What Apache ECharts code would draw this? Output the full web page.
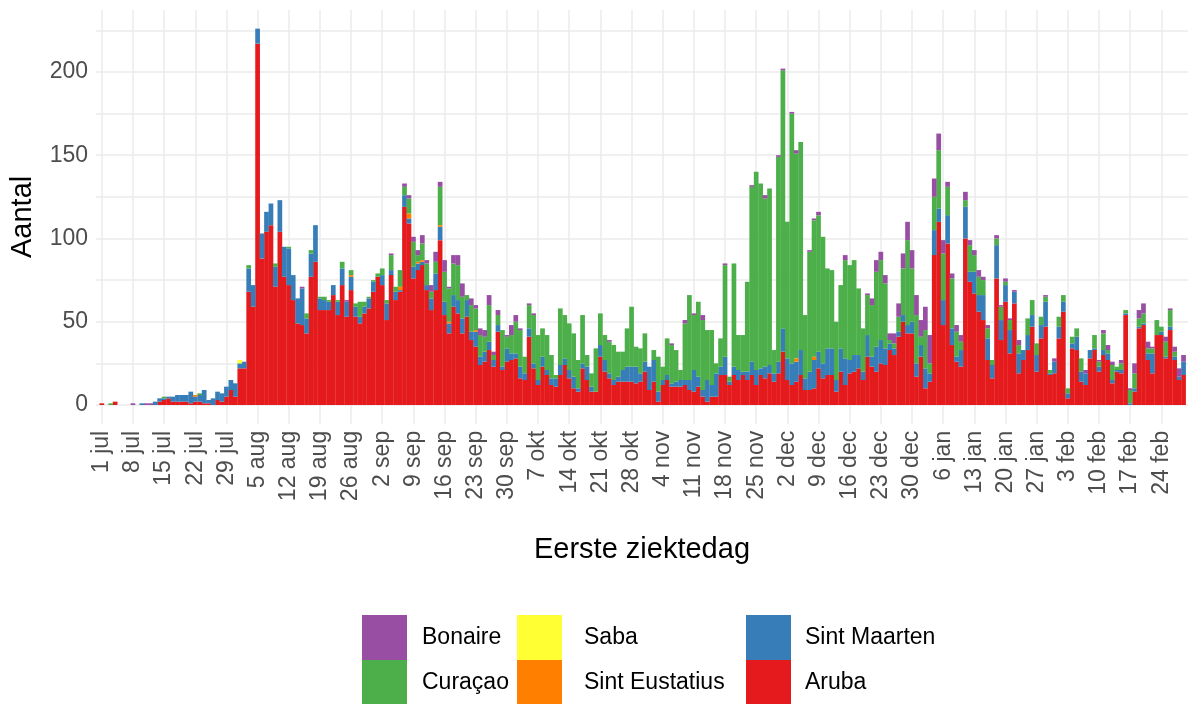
<!DOCTYPE html>
<html lang="nl">
<head>
    <meta charset="UTF-8">
    <title>Eerste ziektedag</title>
    <script src="https://cdn.jsdelivr.net/npm/echarts@6.0.0/dist/echarts.min.js"></script>
    <style>
        html, body { margin: 0; padding: 0; background: #fff; }
        #main { width: 1203px; height: 704px; }
    </style>
</head>
<body>
<div id="main"></div>
<script>
    // dag 0 = 1 jul, laatste dag = 1 mrt
    var tickLabels = ['1 jul', '8 jul', '15 jul', '22 jul', '29 jul', '5 aug', '12 aug', '19 aug', '26 aug',
        '2 sep', '9 sep', '16 sep', '23 sep', '30 sep', '7 okt', '14 okt', '21 okt', '28 okt',
        '4 nov', '11 nov', '18 nov', '25 nov', '2 dec', '9 dec', '16 dec', '23 dec', '30 dec',
        '6 jan', '13 jan', '20 jan', '27 jan', '3 feb', '10 feb', '17 feb', '24 feb'];
    var yLabels = [0, 50, 100, 150, 200];
    var yLines = [0, 25, 50, 75, 100, 125, 150, 175, 200, 225];

    var aruba = [
        1, 0, 0, 2, 0, 0, 0, 0, 0, 0,
        0, 0, 0, 2, 3, 4, 2, 2, 2, 2,
        1, 2, 2, 1, 1, 0, 3, 2, 5, 9,
        5, 22, 22, 68, 59, 217, 88, 104, 108, 71,
        104, 77, 72, 63, 49, 48, 43, 77, 86, 57,
        57, 57, 66, 54, 72, 53, 69, 53, 49, 55,
        58, 68, 77, 72, 51, 78, 63, 68, 119, 109,
        76, 81, 84, 69, 57, 69, 99, 54, 43, 59,
        55, 43, 53, 39, 35, 24, 26, 33, 23, 44,
        21, 26, 27, 28, 16, 15, 41, 22, 12, 23,
        18, 12, 11, 18, 24, 16, 10, 8, 22, 15,
        8, 8, 29, 20, 16, 12, 14, 14, 14, 14,
        13, 14, 20, 9, 14, 2, 12, 15, 11, 11,
        11, 12, 9, 8, 11, 5, 2, 5, 5, 18,
        18, 12, 18, 15, 18, 15, 18, 12, 18, 16,
        19, 14, 19, 32, 15, 12, 14, 18, 9, 9,
        10, 22, 16, 18, 18, 8, 20, 12, 19, 20,
        22, 15, 29, 23, 20, 25, 24, 33, 30, 41,
        50, 43, 43, 17, 29, 10, 14, 90, 110, 48,
        97, 36, 26, 23, 100, 74, 67, 56, 51, 27,
        16, 76, 39, 62, 31, 61, 19, 27, 33, 47,
        20, 40, 47, 18, 19, 40, 56, 4, 34, 33,
        14, 12, 28, 33, 20, 30, 27, 13, 20, 19,
        54, 0, 8, 46, 48, 27, 19, 42, 42, 28,
        45, 27, 15, 18];
    var sintMaarten = [
        0, 0, 0, 0, 0, 0, 0, 0, 0, 1,
        0, 0, 2, 2, 1, 1, 3, 4, 4, 4,
        7, 3, 4, 8, 2, 4, 5, 5, 6, 6,
        8, 3, 4, 14, 13, 9, 15, 12, 13, 12,
        19, 18, 22, 15, 15, 22, 9, 14, 22, 7,
        6, 5, 6, 8, 10, 9, 8, 6, 4, 4,
        6, 6, 0, 6, 10, 3, 5, 1, 7, 3,
        7, 4, 2, 3, 7, 10, 8, 8, 6, 7,
        8, 9, 10, 5, 9, 5, 6, 5, 4, 4,
        2, 8, 4, 3, 7, 4, 5, 3, 3, 6,
        3, 4, 5, 6, 4, 5, 7, 2, 3, 8,
        3, 0, 7, 7, 3, 3, 3, 7, 9, 9,
        10, 5, 6, 14, 13, 6, 3, 3, 2, 3,
        4, 3, 6, 13, 6, 4, 13, 7, 14, 5,
        11, 2, 5, 6, 2, 5, 8, 9, 4, 7,
        5, 5, 7, 14, 13, 13, 12, 15, 7, 11,
        17, 10, 9, 16, 16, 7, 14, 16, 8, 10,
        8, 5, 13, 6, 15, 14, 10, 4, 4, 3,
        4, 5, 7, 8, 7, 12, 5, 15, 8, 15,
        17, 10, 3, 10, 19, 6, 13, 10, 15, 13,
        8, 20, 12, 10, 14, 7, 12, 6, 9, 7,
        10, 8, 15, 1, 7, 7, 6, 3, 3, 8,
        6, 7, 5, 1, 3, 3, 4, 2, 1, 2,
        1, 1, 2, 1, 1, 4, 12, 0, 2, 1,
        2, 2, 2, 8];
    var sintEustatius = [
        0, 0, 0, 0, 0, 0, 0, 0, 0, 0,
        0, 0, 0, 0, 0, 0, 0, 0, 0, 0,
        0, 1, 0, 0, 0, 0, 0, 0, 0, 0,
        0, 0, 0, 0, 0, 0, 0, 0, 0, 0,
        0, 0, 0, 0, 0, 0, 0, 0, 0, 0,
        0, 0, 0, 0, 0, 0, 1, 0, 0, 0,
        0, 0, 0, 0, 0, 0, 0, 2, 0, 3,
        0, 1, 1, 0, 0, 0, 1, 0, 1, 0,
        0, 0, 0, 0, 1, 0, 0, 0, 0, 0,
        0, 0, 0, 0, 0, 0, 0, 0, 0, 0,
        0, 0, 0, 0, 0, 0, 0, 0, 0, 0,
        0, 0, 0, 0, 0, 0, 0, 0, 0, 0,
        0, 0, 0, 0, 0, 0, 0, 0, 0, 0,
        0, 0, 0, 0, 0, 0, 0, 0, 0, 0,
        0, 0, 0, 0, 0, 0, 0, 0, 0, 0,
        0, 0, 0, 0, 0, 0, 2, 0, 0, 0,
        2, 0, 0, 0, 0, 0, 0, 0, 0, 0,
        0, 0, 0, 0, 0, 0, 0, 0, 0, 0,
        0, 0, 0, 0, 0, 0, 0, 0, 0, 0,
        0, 0, 0, 0, 0, 0, 0, 0, 0, 0,
        0, 0, 0, 0, 0, 0, 0, 0, 0, 0,
        0, 0, 0, 0, 0, 0, 0, 0, 0, 0,
        0, 0, 0, 0, 0, 0, 0, 0, 0, 0,
        0, 0, 0, 0, 0, 0, 0, 0, 0, 0,
        0, 0, 0, 0];
    var saba = [
        0, 0, 0, 0, 0, 0, 0, 0, 0, 0,
        0, 0, 0, 0, 0, 0, 0, 0, 0, 0,
        0, 0, 0, 0, 0, 0, 0, 0, 0, 0,
        0, 2, 0, 0, 0, 0, 0, 0, 0, 0,
        0, 0, 0, 0, 0, 0, 0, 0, 0, 0,
        0, 0, 0, 0, 0, 0, 0, 0, 0, 0,
        0, 0, 0, 0, 0, 0, 0, 0, 0, 0,
        0, 0, 0, 0, 0, 0, 0, 0, 0, 0,
        0, 0, 0, 0, 0, 0, 0, 0, 0, 0,
        0, 0, 0, 0, 0, 0, 0, 0, 0, 0,
        0, 0, 0, 0, 0, 0, 0, 0, 0, 0,
        0, 0, 0, 0, 0, 0, 0, 0, 0, 0,
        0, 0, 0, 0, 0, 0, 0, 0, 0, 0,
        0, 0, 0, 0, 0, 0, 0, 0, 0, 0,
        0, 0, 0, 0, 0, 0, 0, 0, 0, 0,
        0, 0, 0, 0, 0, 0, 0, 0, 0, 0,
        0, 0, 0, 0, 0, 0, 0, 0, 0, 0,
        0, 0, 0, 0, 0, 0, 0, 0, 0, 0,
        0, 0, 0, 0, 0, 0, 0, 0, 0, 0,
        0, 0, 0, 0, 0, 0, 0, 0, 0, 0,
        0, 0, 0, 0, 0, 0, 0, 0, 0, 0,
        0, 0, 0, 0, 0, 0, 0, 0, 0, 0,
        0, 0, 0, 0, 0, 0, 0, 0, 0, 0,
        0, 0, 0, 0, 0, 0, 0, 0, 0, 0,
        0, 0, 0, 0];
    var curacao = [
        0, 0, 1, 0, 0, 0, 0, 0, 0, 0,
        0, 0, 0, 0, 1, 0, 0, 0, 0, 0,
        0, 0, 1, 0, 0, 0, 0, 0, 0, 0,
        0, 0, 0, 2, 0, 0, 0, 0, 0, 2,
        0, 0, 1, 0, 0, 0, 3, 2, 0, 1,
        2, 1, 0, 1, 4, 0, 3, 2, 9, 3,
        1, 1, 2, 4, 2, 9, 3, 10, 5, 9,
        15, 4, 10, 13, 4, 7, 23, 18, 20, 19,
        21, 13, 3, 16, 13, 13, 9, 22, 3, 6,
        22, 7, 11, 19, 22, 10, 14, 29, 27, 17,
        21, 14, 2, 34, 26, 28, 26, 17, 29, 7,
        8, 26, 19, 15, 19, 21, 15, 11, 23, 36,
        12, 15, 17, 0, 6, 21, 8, 22, 23, 19,
        6, 34, 51, 33, 45, 42, 30, 33, 6, 17,
        55, 3, 62, 21, 22, 54, 105, 119, 111, 101,
        106, 14, 123, 155, 82, 150, 123, 125, 38, 72,
        82, 82, 76, 48, 47, 35, 38, 59, 57, 57,
        40, 26, 24, 31, 45, 48, 39, 2, 3, 9,
        28, 51, 32, 29, 5, 23, 6, 20, 35, 28,
        17, 30, 15, 5, 4, 16, 10, 11, 9, 6,
        3, 4, 8, 2, 6, 0, 5, 0, 10, 9,
        7, 5, 3, 2, 0, 6, 4, 3, 4, 5,
        8, 0, 0, 8, 3, 10, 2, 9, 2, 4,
        2, 8, 9, 5, 6, 3, 3, 9, 3, 9,
        10, 3, 0, 0];
    var bonaire = [
        0, 0, 0, 0, 0, 0, 0, 1, 0, 0,
        1, 1, 0, 0, 0, 0, 0, 0, 0, 0,
        0, 0, 0, 0, 0, 0, 0, 0, 0, 0,
        0, 0, 0, 0, 0, 0, 0, 0, 0, 0,
        0, 0, 0, 0, 0, 1, 0, 0, 0, 0,
        0, 0, 0, 0, 0, 1, 0, 0, 0, 0,
        0, 0, 0, 0, 0, 1, 0, 0, 2, 2,
        3, 3, 5, 2, 4, 6, 3, 7, 1, 5,
        6, 8, 0, 4, 2, 4, 4, 6, 2, 3,
        0, 1, 6, 4, 1, 0, 1, 1, 0, 0,
        0, 0, 0, 0, 0, 0, 0, 0, 0, 0,
        0, 0, 0, 0, 1, 0, 0, 0, 0, 0,
        0, 0, 0, 0, 0, 0, 0, 0, 1, 0,
        0, 2, 0, 1, 0, 3, 0, 0, 0, 0,
        1, 0, 0, 0, 0, 0, 1, 0, 0, 2,
        0, 0, 1, 1, 0, 1, 2, 0, 0, 1,
        1, 2, 0, 0, 0, 0, 0, 3, 0, 0,
        0, 0, 1, 4, 7, 5, 5, 4, 6, 8,
        9, 11, 11, 12, 10, 14, 17, 11, 10, 8,
        3, 3, 4, 4, 5, 3, 3, 4, 2, 2,
        0, 2, 1, 2, 1, 1, 3, 0, 0, 0,
        0, 0, 1, 0, 2, 0, 0, 0, 0, 0,
        0, 2, 0, 0, 1, 2, 3, 2, 0, 2,
        0, 1, 6, 5, 6, 4, 1, 0, 0, 3,
        1, 3, 5, 4];

    // volgorde van onder naar boven in de stapel
    var regions = [
        {name: 'Aruba', color: '#E41A1C', values: aruba},
        {name: 'Sint Maarten', color: '#377EB8', values: sintMaarten},
        {name: 'Sint Eustatius', color: '#FF7F00', values: sintEustatius},
        {name: 'Saba', color: '#FFFF33', values: saba},
        {name: 'Curaçao', color: '#4DAF4A', values: curacao},
        {name: 'Bonaire', color: '#984EA3', values: bonaire}
    ];

    var tickDays = tickLabels.map(function (t, i) { return i * 7; });

    function legendColumn(left, names, textGap) {
        return {
            orient: 'vertical',
            left: left,
            top: 615,
            height: 95,
            padding: 0,
            itemWidth: 45,
            itemHeight: 45,
            itemGap: 0,
            icon: 'rect',
            selectedMode: false,
            data: names,
            textStyle: {fontSize: 23, color: '#000', padding: [0, 0, 0, textGap]}
        };
    }

    var option = {
        animation: false,
        textStyle: {fontFamily: '"Liberation Sans", Arial, sans-serif'},
        grid: {left: 95.2, right: 15, top: 10, bottom: 280.2},
        legend: [
            legendColumn(362, ['Bonaire', 'Curaçao'], 10),
            legendColumn(517, ['Saba', 'Sint Eustatius'], 17),
            legendColumn(746, ['Sint Maarten', 'Aruba'], 9)
        ],
        xAxis: {
            type: 'value',
            min: -1.3,
            max: 244,
            name: 'Eerste ziektedag',
            nameLocation: 'middle',
            nameGap: 112,
            nameTextStyle: {fontSize: 29, color: '#000'},
            axisLine: {show: false},
            axisTick: {show: false, customValues: tickDays},
            axisLabel: {
                customValues: tickDays,
                rotate: 90,
                margin: 7,
                fontSize: 23,
                color: '#4D4D4D',
                formatter: function (v) { return tickLabels[tickDays.indexOf(v)]; }
            },
            splitLine: {show: true, lineStyle: {color: '#EBEBEB', width: 1.5}}
        },
        yAxis: {
            type: 'value',
            min: -11.3,
            max: 237.2,
            name: 'Aantal',
            nameLocation: 'middle',
            nameGap: 59,
            nameTextStyle: {fontSize: 29, color: '#000'},
            axisLine: {show: false},
            axisTick: {show: false, customValues: yLines},
            axisLabel: {customValues: yLabels, margin: 8, fontSize: 23, color: '#4D4D4D'},
            splitLine: {show: true, lineStyle: {color: '#EBEBEB', width: 1.5}}
        },
        // waarde eerst zodat de stapel op de y-waarde werkt
        series: regions.map(function (r) {
            return {
                name: r.name,
                type: 'bar',
                stack: 'totaal',
                barWidth: '106%',
                barCategoryGap: '0%',
                encode: {x: 1, y: 0},
                itemStyle: {color: r.color},
                data: r.values.map(function (v, i) { return [v, i]; })
            };
        })
    };

    var myChart = echarts.init(document.getElementById('main'));
    myChart.setOption(option);
</script>
</body>
</html>
